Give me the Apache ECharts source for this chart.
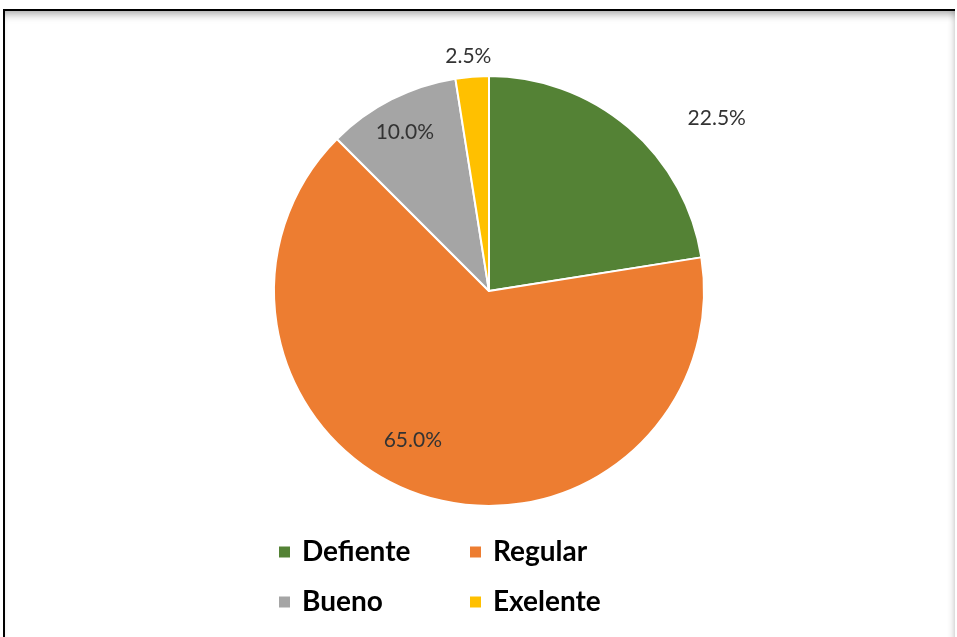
<!DOCTYPE html>
<html><head><meta charset="utf-8">
<script src="https://cdn.jsdelivr.net/npm/echarts@6/dist/echarts.min.js"></script>
<style>
html,body{margin:0;padding:0;background:#fff;}
#c{position:absolute;left:0;top:0;width:957px;height:637px;}
#frame{position:absolute;left:3px;top:9px;width:950px;height:640px;border-top:2px solid #000;border-left:2px solid #000;pointer-events:none;
box-shadow: inset 0 8px 8px -5px rgba(0,0,0,0.35), inset -6px 0 6px -4px rgba(0,0,0,0.15);}
</style></head>
<body>
<div id="c"></div>
<div id="frame"></div>
<script>
const categories = ['Defiente', 'Regular', 'Bueno', 'Exelente'];
const values = [9, 26, 4, 1];
const colors = ['#548235', '#ED7D31', '#A5A5A5', '#FFC000'];
const labelOffsets = [[156, -89], [-42, 44], [-34, -60], [-12, -125]];

const chart = echarts.init(document.getElementById('c'));
chart.setOption({
  animation: false,
  legend: {
    left: 277, top: 538, width: 420, padding: 0,
    itemWidth: 13, itemHeight: 13, itemGap: 22,
    icon: 'rect',
    data: categories,
    textStyle: {
      fontFamily: 'Lato', fontWeight: 'bold', fontSize: 28, color: '#000',
      width: 144, lineHeight: 22, padding: [0, 0, 0, 6]
    }
  },
  series: [{
    type: 'pie',
    center: [489, 291],
    radius: 215,
    startAngle: 90,
    clockwise: true,
    avoidLabelOverlap: false,
    itemStyle: { borderColor: '#fff', borderWidth: 2 },
    label: {
      position: 'inside',
      fontFamily: 'Lato', fontSize: 21, color: '#333',
      formatter: p => p.percent.toFixed(1) + '%'
    },
    labelLine: { show: false },
    emphasis: { disabled: true },
    data: categories.map((n, i) => ({
      name: n, value: values[i],
      itemStyle: { color: colors[i] },
      label: { offset: labelOffsets[i] }
    }))
  }]
});
</script>
</body></html>
